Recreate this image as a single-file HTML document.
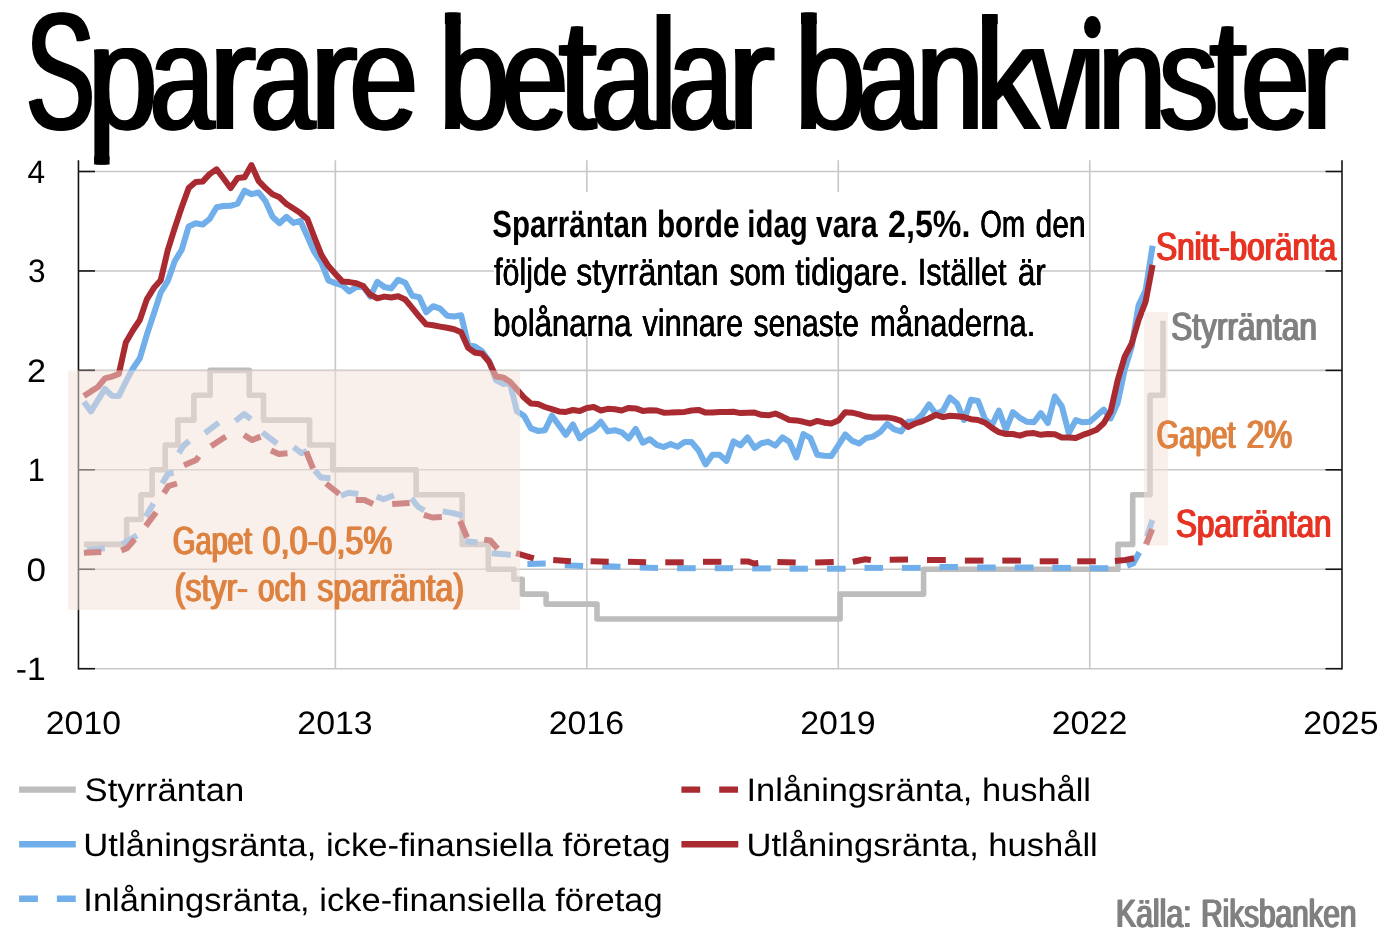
<!DOCTYPE html>
<html lang="sv"><head><meta charset="utf-8"><title>Sparare betalar bankvinster</title><style>html,body{margin:0;padding:0;background:#fff}body{width:1384px;height:948px;overflow:hidden}svg{display:block;will-change:transform}text{font-family:"Liberation Sans",sans-serif;text-rendering:geometricPrecision}</style></head><body>
<svg width="1384" height="948" viewBox="0 0 1384 948">
<rect width="1384" height="948" fill="#fff"/>
<g stroke="#C7C7C7" stroke-width="1.6" fill="none">
<line x1="78.45" y1="668.70" x2="1342.0" y2="668.70"/>
<line x1="78.45" y1="569.26" x2="1342.0" y2="569.26"/>
<line x1="78.45" y1="469.82" x2="1342.0" y2="469.82"/>
<line x1="78.45" y1="370.38" x2="1342.0" y2="370.38"/>
<line x1="78.45" y1="270.94" x2="1342.0" y2="270.94"/>
<line x1="78.45" y1="171.50" x2="1342.0" y2="171.50"/>
<line x1="335.36" y1="160.2" x2="335.36" y2="668.70"/>
<line x1="586.82" y1="160.2" x2="586.82" y2="668.70"/>
<line x1="838.28" y1="160.2" x2="838.28" y2="668.70"/>
<line x1="1089.74" y1="160.2" x2="1089.74" y2="668.70"/>
</g>
<rect x="494" y="192" width="544" height="144.5" fill="#fff"/>
<g fill="none" stroke-width="6.0" stroke-linejoin="round">
<polyline stroke="#BDBDBD" stroke-width="5.6" points="83.9,544.4 126.6,544.4 126.6,519.5 141.0,519.5 141.0,494.7 152.1,494.7 152.1,469.8 165.2,469.8 165.2,445.0 177.9,445.0 177.9,420.1 193.9,420.1 193.9,395.2 210.1,395.2 210.1,370.4 249.3,370.4 249.3,395.2 263.5,395.2 263.5,420.1 309.6,420.1 309.6,445.0 332.7,445.0 332.7,469.8 416.1,469.8 416.1,494.7 462.2,494.7 462.2,544.4 488.3,544.4 488.3,569.3 513.9,569.3 513.9,579.2 522.2,579.2 522.2,594.1 546.1,594.1 546.1,604.1 597.0,604.1 597.0,619.0 840.1,619.0 840.1,594.1 923.6,594.1 923.6,569.3 1118.0,569.3 1118.0,544.4 1132.7,544.4 1132.7,494.7 1150.0,494.7 1150.0,395.2 1163.0,395.2 1163.0,320.7"/>
<polyline stroke="#70AFEA" points="83.9,401.8 90.9,411.4 97.9,400.1 104.9,388.8 111.8,395.7 118.8,396.1 125.8,381.8 132.8,368.7 139.8,358.3 146.8,334.8 153.8,313.9 160.7,292.5 167.7,281.2 174.7,261.2 181.7,249.8 188.7,226.4 195.7,223.2 202.6,224.6 209.6,219.0 216.6,207.2 223.6,206.0 230.6,205.8 237.6,203.7 244.6,190.7 251.5,194.2 258.5,192.4 265.5,201.1 272.5,216.8 279.5,223.2 286.5,216.8 293.5,222.9 300.4,220.9 307.4,236.5 314.4,252.2 321.4,262.7 328.4,280.4 335.4,283.2 342.3,285.3 349.3,291.4 356.3,287.0 363.3,286.7 370.3,296.6 377.3,281.8 384.3,287.0 391.2,288.4 398.2,279.7 405.2,282.7 412.2,295.7 419.2,297.1 426.2,312.3 433.1,306.2 440.1,308.7 447.1,315.7 454.1,316.5 461.1,315.3 468.1,344.4 475.1,346.6 482.0,351.3 489.0,360.9 496.0,380.1 503.0,383.9 510.0,383.5 517.0,411.4 524.0,415.7 530.9,428.4 537.9,430.9 544.9,430.2 551.9,415.7 558.9,425.3 565.9,434.9 572.9,424.4 579.8,438.4 586.8,432.3 593.8,428.8 600.8,421.8 607.8,431.4 614.8,430.2 621.7,432.3 628.7,438.4 635.7,428.8 642.7,442.7 649.7,439.2 656.7,444.8 663.7,447.0 670.6,444.1 677.6,446.7 684.6,442.1 691.6,442.1 698.6,450.5 705.6,464.4 712.5,454.8 719.5,454.8 726.5,460.9 733.5,441.4 740.5,445.3 747.5,437.4 754.5,447.9 761.4,443.2 768.4,441.8 775.4,445.6 782.4,437.4 789.4,441.8 796.4,457.5 803.4,434.0 810.3,438.0 817.3,454.8 824.3,455.7 831.3,456.1 838.3,445.3 845.3,434.5 852.2,440.9 859.2,443.5 866.2,438.0 873.2,436.6 880.2,432.1 887.2,423.9 894.2,429.3 901.1,431.5 908.1,421.8 915.1,421.3 922.1,414.8 929.1,404.4 936.1,414.3 943.1,410.5 950.0,397.4 957.0,403.5 964.0,420.0 971.0,399.7 978.0,400.9 985.0,419.2 992.0,425.3 998.9,410.5 1005.9,429.6 1012.9,412.2 1019.9,417.8 1026.9,421.8 1033.9,422.3 1040.8,413.1 1047.8,423.0 1054.8,396.5 1061.8,406.2 1068.8,433.1 1075.8,420.1 1082.8,422.3 1089.7,421.8 1096.7,415.7 1103.7,409.6 1110.7,418.3 1117.7,402.7 1124.7,369.6 1131.7,346.6 1138.6,305.2 1145.6,290.5 1152.6,245.8"/>
<g stroke="#70AFEA">
<polyline points="87.0,550.3 104.8,548.3"/>
<polyline points="122.2,544.4 137.0,535.4"/>
<polyline points="145.7,516.6 153.5,503.5"/>
<polyline points="162.2,483.5 168.3,473.4 173.6,473.1"/>
<polyline points="178.8,453.1 183.1,446.1 189.2,440.9"/>
<polyline points="204.9,433.1 218.8,422.7"/>
<polyline points="235.3,421.0 244.0,414.0 251.0,419.2"/>
<polyline points="262.3,432.3 277.1,443.6"/>
<polyline points="293.6,447.1 301.5,453.2 307.0,451.0"/>
<polyline points="314.8,470.5 320.9,477.4 330.5,478.3"/>
<polyline points="340.9,495.7 348.7,492.8 358.3,494.0"/>
<polyline points="376.6,496.6 383.5,499.2 394.0,495.4"/>
<polyline points="411.4,498.3 418.3,507.0 424.4,510.5"/>
<polyline points="442.7,511.4 453.2,513.1 462.7,515.7"/>
<polyline points="465.3,541.0 477.5,542.4"/>
<polyline points="491.6,553.3 510.8,554.9"/>
<polyline points="527.4,564.0 545.7,563.5"/>
<polyline points="564.8,565.3 583.1,566.1"/>
<polyline points="602.3,566.1 620.5,566.7"/>
<polyline points="639.7,567.5 658.0,567.9"/>
<polyline points="677.1,568.2 695.7,568.2"/>
<polyline points="714.8,568.2 733.1,568.2"/>
<polyline points="752.2,568.4 770.8,568.4"/>
<polyline points="789.6,568.7 807.9,568.7"/>
<polyline points="827.0,568.7 845.7,568.7"/>
<polyline points="864.5,567.9 883.1,567.9"/>
<polyline points="901.9,567.9 920.7,567.9"/>
<polyline points="939.5,567.0 957.9,567.0"/>
<polyline points="977.1,567.5 995.7,567.5"/>
<polyline points="1014.8,567.5 1033.5,567.5"/>
<polyline points="1052.3,567.9 1070.9,567.9"/>
<polyline points="1089.7,568.2 1108.3,568.2"/>
<polyline points="1127.1,565.8 1133.2,563.5 1139.3,552.2"/>
<polyline points="1147.1,536.5 1152.3,520.0"/>
</g>
<g stroke="#A92B31">
<polyline points="83.9,552.8 101.3,551.9"/>
<polyline points="121.3,550.5 127.4,547.9 134.7,539.2"/>
<polyline points="145.7,526.1 156.1,512.2"/>
<polyline points="164.0,493.1 168.3,486.1 177.0,483.5"/>
<polyline points="184.0,465.2 196.2,460.0 198.8,456.5"/>
<polyline points="211.0,446.2 225.8,436.6"/>
<polyline points="244.0,434.9 251.9,440.1 260.6,436.6"/>
<polyline points="271.0,450.5 278.8,454.0 287.5,453.2"/>
<polyline points="306.2,451.5 313.1,468.7"/>
<polyline points="326.1,483.5 339.2,494.0"/>
<polyline points="355.7,500.1 364.4,500.1 373.1,504.1"/>
<polyline points="392.2,504.1 409.6,503.0"/>
<polyline points="423.9,514.9 432.3,517.5 441.8,517.0"/>
<polyline points="460.1,521.0 467.1,537.5"/>
<polyline points="484.2,539.6 490.3,540.5 497.6,548.8"/>
<polyline points="516.0,553.1 533.8,558.3"/>
<polyline points="553.2,560.0 570.9,561.3"/>
<polyline points="590.6,561.3 608.7,561.8"/>
<polyline points="628.0,561.8 646.1,562.3"/>
<polyline points="665.3,562.3 683.7,562.3"/>
<polyline points="703.0,561.8 721.4,561.8"/>
<polyline points="740.4,561.4 747.9,561.4 754.0,563.5 758.3,563.0"/>
<polyline points="777.4,562.1 795.7,562.6"/>
<polyline points="815.2,562.6 833.7,562.1"/>
<polyline points="852.8,561.8 865.3,559.2 870.9,560.0"/>
<polyline points="889.7,559.7 908.0,559.5"/>
<polyline points="927.0,560.0 945.8,560.0"/>
<polyline points="964.9,560.6 983.5,560.6"/>
<polyline points="1002.3,560.6 1020.9,560.6"/>
<polyline points="1039.7,561.3 1058.4,561.3"/>
<polyline points="1077.2,561.3 1095.8,561.3"/>
<polyline points="1114.9,560.9 1125.4,560.0 1134.1,558.3"/>
<polyline points="1146.1,544.4 1152.2,529.1"/>
</g>
<polyline stroke="#A92B31" points="83.9,396.1 90.9,391.4 97.9,387.0 104.9,378.3 111.8,376.6 118.8,374.0 125.8,342.6 132.8,330.5 139.8,320.0 146.8,299.4 153.8,288.1 160.7,280.3 167.7,250.4 174.7,228.1 181.7,207.2 188.7,188.1 195.7,182.0 202.6,181.6 209.6,174.1 216.6,169.3 223.6,178.5 230.6,188.1 237.6,178.0 244.6,177.3 251.5,165.1 258.5,180.8 265.5,188.1 272.5,194.2 279.5,197.3 286.5,204.1 293.5,208.6 300.4,213.1 307.4,219.1 314.4,237.4 321.4,254.8 328.4,266.1 335.4,274.0 342.3,281.4 349.3,282.1 356.3,283.2 363.3,286.1 370.3,294.8 377.3,298.3 384.3,296.6 391.2,297.5 398.2,296.2 405.2,299.5 412.2,307.9 419.2,316.6 426.2,324.4 433.1,325.3 440.1,326.6 447.1,327.8 454.1,329.2 461.1,332.2 468.1,347.9 475.1,352.7 482.0,353.6 489.0,361.8 496.0,376.6 503.0,377.4 510.0,381.8 517.0,389.6 524.0,397.5 530.9,403.6 537.9,404.1 544.9,407.0 551.9,409.1 558.9,411.4 565.9,411.9 572.9,410.0 579.8,411.0 586.8,407.9 593.8,407.0 600.8,410.5 607.8,408.8 614.8,409.3 621.7,410.5 628.7,407.9 635.7,408.4 642.7,410.9 649.7,410.2 656.7,410.5 663.7,412.7 670.6,412.6 677.6,412.2 684.6,411.9 691.6,410.5 698.6,409.9 705.6,412.6 712.5,412.6 719.5,411.9 726.5,411.9 733.5,411.7 740.5,413.1 747.5,412.7 754.5,412.6 761.4,414.8 768.4,415.3 775.4,413.6 782.4,416.6 789.4,420.0 796.4,420.4 803.4,421.8 810.3,423.5 817.3,420.9 824.3,422.7 831.3,423.5 838.3,420.6 845.3,412.2 852.2,412.7 859.2,414.3 866.2,416.6 873.2,417.4 880.2,417.4 887.2,417.4 894.2,418.6 901.1,420.9 908.1,427.0 915.1,423.5 922.1,421.3 929.1,418.3 936.1,414.8 943.1,417.1 950.0,415.7 957.0,416.2 964.0,417.1 971.0,419.2 978.0,420.0 985.0,422.7 992.0,427.9 998.9,432.2 1005.9,434.0 1012.9,434.0 1019.9,435.7 1026.9,433.4 1033.9,433.1 1040.8,434.8 1047.8,434.0 1054.8,434.3 1061.8,437.5 1068.8,437.5 1075.8,438.0 1082.8,434.9 1089.7,432.6 1096.7,429.7 1103.7,423.2 1110.7,411.4 1117.7,380.1 1124.7,356.6 1131.7,343.5 1138.6,320.0 1145.6,301.7 1152.6,264.9"/>
</g>
<g stroke="#141414" stroke-width="1.6" fill="none">
<line x1="78.45" y1="160.2" x2="78.45" y2="669.50"/>
<line x1="1342.0" y1="160.2" x2="1342.0" y2="669.50"/>
<line x1="78.45" y1="668.70" x2="95" y2="668.70"/>
<line x1="1325.5" y1="668.70" x2="1342.0" y2="668.70"/>
<line x1="78.45" y1="569.26" x2="95" y2="569.26"/>
<line x1="1325.5" y1="569.26" x2="1342.0" y2="569.26"/>
<line x1="78.45" y1="469.82" x2="95" y2="469.82"/>
<line x1="1325.5" y1="469.82" x2="1342.0" y2="469.82"/>
<line x1="78.45" y1="370.38" x2="95" y2="370.38"/>
<line x1="1325.5" y1="370.38" x2="1342.0" y2="370.38"/>
<line x1="78.45" y1="270.94" x2="95" y2="270.94"/>
<line x1="1325.5" y1="270.94" x2="1342.0" y2="270.94"/>
<line x1="78.45" y1="171.50" x2="95" y2="171.50"/>
<line x1="1325.5" y1="171.50" x2="1342.0" y2="171.50"/>
</g>
<rect x="68" y="370.4" width="452" height="239.5" fill="#F5E2D8" fill-opacity="0.51"/>
<rect x="1144" y="312" width="24" height="233.5" fill="#F5E2D8" fill-opacity="0.51"/>
<text transform="translate(492.32,237.3) scale(0.7756,1)" font-size="38" font-weight="bold" fill="#000">Sparräntan</text>
<text transform="translate(656.95,237.3) scale(0.7820,1)" font-size="38" font-weight="bold" fill="#000">borde</text>
<text transform="translate(747.27,237.3) scale(0.7737,1)" font-size="38" font-weight="bold" fill="#000">idag</text>
<text transform="translate(816.00,237.3) scale(0.7892,1)" font-size="38" font-weight="bold" fill="#000">vara</text>
<text transform="translate(888.04,237.3) scale(0.8472,1)" font-size="38" font-weight="bold" fill="#000">2,5%.</text>
<text id="w1" transform="translate(980.32,237.3) scale(0.7308,1)" font-size="38" font-weight="normal" fill="#000">Om</text><use href="#w1" x="-0.3"/><use href="#w1" x="0.3"/>
<text id="w2" transform="translate(1035.52,237.3) scale(0.7897,1)" font-size="38" font-weight="normal" fill="#000">den</text><use href="#w2" x="-0.3"/><use href="#w2" x="0.3"/>
<text id="w3" transform="translate(494.10,285.4) scale(0.8015,1)" font-size="38" font-weight="normal" fill="#000">följde</text><use href="#w3" x="-0.3"/><use href="#w3" x="0.3"/>
<text id="w4" transform="translate(576.26,285.4) scale(0.8425,1)" font-size="38" font-weight="normal" fill="#000">styrräntan</text><use href="#w4" x="-0.3"/><use href="#w4" x="0.3"/>
<text id="w5" transform="translate(729.62,285.4) scale(0.7780,1)" font-size="38" font-weight="normal" fill="#000">som</text><use href="#w5" x="-0.3"/><use href="#w5" x="0.3"/>
<text id="w6" transform="translate(795.28,285.4) scale(0.8350,1)" font-size="38" font-weight="normal" fill="#000">tidigare.</text><use href="#w6" x="-0.3"/><use href="#w6" x="0.3"/>
<text id="w7" transform="translate(917.77,285.4) scale(0.8083,1)" font-size="38" font-weight="normal" fill="#000">Istället</text><use href="#w7" x="-0.3"/><use href="#w7" x="0.3"/>
<text id="w8" transform="translate(1018.07,285.4) scale(0.8186,1)" font-size="38" font-weight="normal" fill="#000">är</text><use href="#w8" x="-0.3"/><use href="#w8" x="0.3"/>
<text id="w9" transform="translate(493.16,335.6) scale(0.8179,1)" font-size="38" font-weight="normal" fill="#000">bolånarna</text><use href="#w9" x="-0.3"/><use href="#w9" x="0.3"/>
<text id="w10" transform="translate(642.50,335.6) scale(0.8065,1)" font-size="38" font-weight="normal" fill="#000">vinnare</text><use href="#w10" x="-0.3"/><use href="#w10" x="0.3"/>
<text id="w11" transform="translate(753.51,335.6) scale(0.7918,1)" font-size="38" font-weight="normal" fill="#000">senaste</text><use href="#w11" x="-0.3"/><use href="#w11" x="0.3"/>
<text id="w12" transform="translate(869.96,335.6) scale(0.8158,1)" font-size="38" font-weight="normal" fill="#000">månaderna.</text><use href="#w12" x="-0.3"/><use href="#w12" x="0.3"/>
<text id="w13" transform="translate(1156.16,259.7) scale(0.7962,1)" font-size="39.5" font-weight="normal" fill="#E63323">Snitt-boränta</text><use href="#w13" x="-0.85"/><use href="#w13" x="0.85"/>
<text id="w14" transform="translate(1171.15,339.9) scale(0.8000,1)" font-size="39.5" font-weight="normal" fill="#808080">Styrräntan</text><use href="#w14" x="-0.85"/><use href="#w14" x="0.85"/>
<text id="w15" transform="translate(1156.67,448) scale(0.7318,1)" font-size="39.5" font-weight="normal" fill="#DD8240">Gapet</text><use href="#w15" x="-0.85"/><use href="#w15" x="0.85"/>
<text id="w16" transform="translate(1246.65,448) scale(0.7986,1)" font-size="39.5" font-weight="normal" fill="#DD8240">2%</text><use href="#w16" x="-0.85"/><use href="#w16" x="0.85"/>
<text id="w17" transform="translate(1175.96,536.6) scale(0.7959,1)" font-size="39.5" font-weight="normal" fill="#E63323">Sparräntan</text><use href="#w17" x="-0.85"/><use href="#w17" x="0.85"/>
<text id="w18" transform="translate(172.97,553.5) scale(0.7328,1)" font-size="39.5" font-weight="normal" fill="#DD8240">Gapet</text><use href="#w18" x="-0.85"/><use href="#w18" x="0.85"/>
<text id="w19" transform="translate(262.52,553.5) scale(0.8201,1)" font-size="39.5" font-weight="normal" fill="#DD8240">0,0-0,5%</text><use href="#w19" x="-0.85"/><use href="#w19" x="0.85"/>
<text id="w20" transform="translate(174.72,600.6) scale(0.8137,1)" font-size="39.5" font-weight="normal" fill="#DD8240">(styr-</text><use href="#w20" x="-0.85"/><use href="#w20" x="0.85"/>
<text id="w21" transform="translate(258.01,600.6) scale(0.7569,1)" font-size="39.5" font-weight="normal" fill="#DD8240">och</text><use href="#w21" x="-0.85"/><use href="#w21" x="0.85"/>
<text id="w22" transform="translate(317.23,600.6) scale(0.8153,1)" font-size="39.5" font-weight="normal" fill="#DD8240">sparränta)</text><use href="#w22" x="-0.85"/><use href="#w22" x="0.85"/>
<text id="w23" transform="translate(1116.01,926.8) scale(0.7635,1)" font-size="39.5" font-weight="normal" fill="#808080">Källa:</text><use href="#w23" x="-0.9"/><use href="#w23" x="0.9"/>
<text id="w24" transform="translate(1201.24,926.8) scale(0.7520,1)" font-size="39.5" font-weight="normal" fill="#808080">Riksbanken</text><use href="#w24" x="-0.9"/><use href="#w24" x="0.9"/>
<text transform="translate(84.57,801.2) scale(1.0641,1)" font-size="32.5" font-weight="normal" fill="#000">Styrräntan</text>
<text transform="translate(83.34,855.8) scale(1.0655,1)" font-size="32.5" font-weight="normal" fill="#000">Utlåningsränta, icke-finansiella företag</text>
<text transform="translate(83.31,910.5) scale(1.0618,1)" font-size="32.5" font-weight="normal" fill="#000">Inlåningsränta, icke-finansiella företag</text>
<text transform="translate(746.52,801.2) scale(1.0592,1)" font-size="32.5" font-weight="normal" fill="#000">Inlåningsränta, hushåll</text>
<text transform="translate(746.54,855.8) scale(1.0624,1)" font-size="32.5" font-weight="normal" fill="#000">Utlåningsränta, hushåll</text>
<text transform="translate(15.71,680.2) scale(1.0356,1)" font-size="32.5" font-weight="normal" fill="#000">-1</text>
<text transform="translate(26.45,580.76) scale(1.0794,1)" font-size="32.5" font-weight="normal" fill="#000">0</text>
<text transform="translate(27.87,481.32) scale(0.9474,1)" font-size="32.5" font-weight="normal" fill="#000">1</text>
<text transform="translate(26.92,381.88) scale(1.0533,1)" font-size="32.5" font-weight="normal" fill="#000">2</text>
<text transform="translate(28.03,282.44) scale(0.9714,1)" font-size="32.5" font-weight="normal" fill="#000">3</text>
<text transform="translate(27.51,183.0) scale(0.9731,1)" font-size="32.5" font-weight="normal" fill="#000">4</text>
<text transform="translate(45.84,734.4) scale(1.0384,1)" font-size="32.5" font-weight="normal" fill="#000">2010</text>
<text transform="translate(297.30,734.4) scale(1.0421,1)" font-size="32.5" font-weight="normal" fill="#000">2013</text>
<text transform="translate(548.76,734.4) scale(1.0421,1)" font-size="32.5" font-weight="normal" fill="#000">2016</text>
<text transform="translate(800.22,734.4) scale(1.0421,1)" font-size="32.5" font-weight="normal" fill="#000">2019</text>
<text transform="translate(1051.67,734.4) scale(1.0459,1)" font-size="32.5" font-weight="normal" fill="#000">2022</text>
<text transform="translate(1303.14,734.4) scale(1.0421,1)" font-size="32.5" font-weight="normal" fill="#000">2025</text>
<g id="ttl" font-size="160" fill="#000">
<text transform="translate(26.02,129.07) scale(0.6438,1.0425)">S</text>
<text transform="translate(88.09,129.16) scale(0.7769,0.9412)">p</text>
<text transform="translate(149.78,129.23) scale(0.7240,0.9412)">a</text>
<text transform="translate(208.74,129.30) scale(0.8900,0.9455)">r</text>
<text transform="translate(250.58,129.23) scale(0.7240,0.9412)">a</text>
<text transform="translate(309.41,129.30) scale(0.9025,0.9455)">r</text>
<text transform="translate(349.47,129.23) scale(0.7699,0.9412)">e</text>
<text transform="translate(438.69,129.23) scale(0.7964,0.9412)">b</text>
<text transform="translate(501.73,129.23) scale(0.7459,0.9412)">e</text>
<text transform="translate(558.84,129.46) scale(0.8517,0.9906)">t</text>
<text transform="translate(591.13,129.23) scale(0.7167,0.9412)">a</text>
<text transform="translate(650.91,129.30) scale(0.7040,0.9919)">l</text>
<text transform="translate(668.80,129.23) scale(0.7215,0.9412)">a</text>
<text transform="translate(727.54,129.30) scale(0.8900,0.9455)">r</text>
<text transform="translate(794.77,129.23) scale(0.7977,0.9412)">b</text>
<text transform="translate(857.33,129.23) scale(0.7167,0.9412)">a</text>
<text transform="translate(916.35,129.30) scale(0.7577,0.9420)">n</text>
<text transform="translate(975.43,129.30) scale(0.7948,0.9412)">k</text>
<text transform="translate(1030.72,129.30) scale(0.6983,0.9476)">v</text>
<text transform="translate(1076.94,129.30) scale(0.6969,0.9452)">ı</text>
<text transform="translate(1097.81,129.30) scale(0.7709,0.9420)">n</text>
<text transform="translate(1159.11,129.23) scale(0.7382,0.9437)">s</text>
<text transform="translate(1209.47,129.46) scale(0.8395,0.9906)">t</text>
<text transform="translate(1240.97,129.23) scale(0.7699,0.9412)">e</text>
<text transform="translate(1300.38,129.30) scale(0.9050,0.9455)">r</text>
<rect x="96.10" y="156.41" width="11.47" height="8.09"/>
<rect x="446.90" y="12.60" width="11.76" height="11.51"/>
<rect x="803.00" y="12.60" width="11.78" height="11.51"/>
<rect x="984.00" y="14.10" width="11.74" height="10.08"/>
</g>
<use href="#ttl" x="-2.0"/><use href="#ttl" x="2.0"/>
<ellipse cx="1092.4" cy="27.2" rx="8.3" ry="11.1" fill="#000"/>
<g fill="none" stroke-width="6.4">
<line x1="19.1" y1="789.6" x2="75.8" y2="789.6" stroke="#BDBDBD"/>
<line x1="19.1" y1="844.2" x2="75.8" y2="844.2" stroke="#70AFEA"/>
<line x1="19.1" y1="898.8" x2="75.8" y2="898.8" stroke="#70AFEA" stroke-dasharray="18.8 19"/>
<line x1="681.4" y1="789.6" x2="738.3" y2="789.6" stroke="#A92B31" stroke-dasharray="18.8 19"/>
<line x1="681.4" y1="844.2" x2="738.3" y2="844.2" stroke="#A92B31"/>
</g>
</svg></body></html>
